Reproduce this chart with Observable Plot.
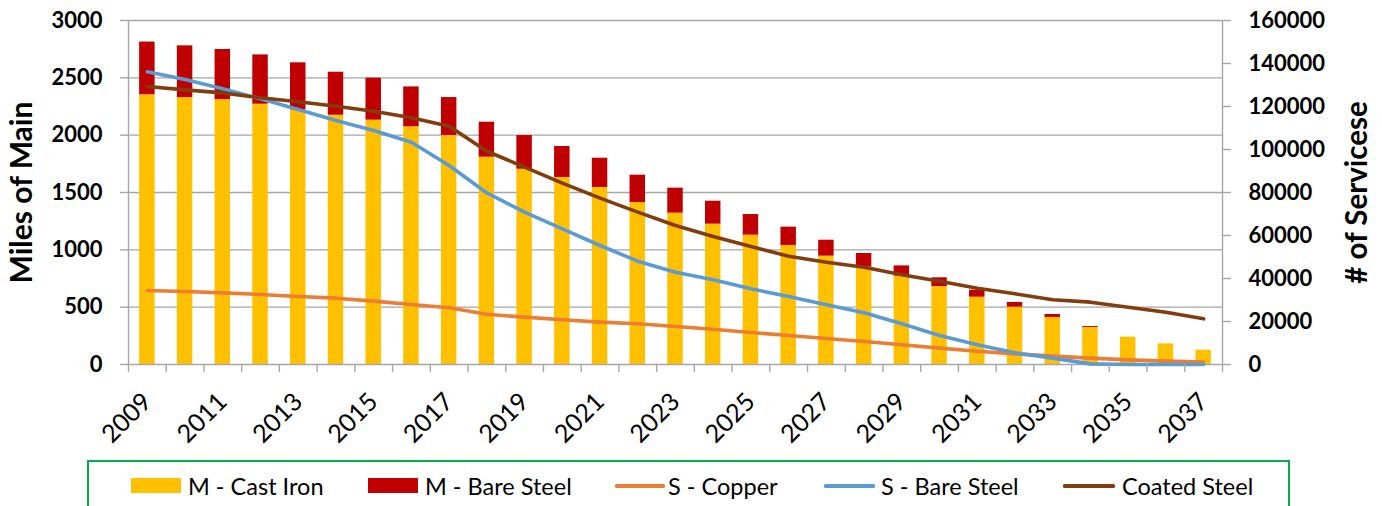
<!DOCTYPE html>
<html>
<head>
<meta charset="utf-8">
<script src="https://cdn.jsdelivr.net/npm/d3@7"></script>
<script src="https://cdn.jsdelivr.net/npm/@observablehq/plot@0.6"></script>
<style>
  html, body { margin: 0; padding: 0; background: #fff; }
  body { width: 1382px; height: 506px; position: relative; overflow: hidden; font-family: Lato, "Open Sans", sans-serif; }
  #chart { position: absolute; left: 0; top: 0; }
  #legend { position: absolute; left: 87px; top: 460px; width: 1203px; height: 60px; border: 2px solid #00B050; box-sizing: border-box; }
  .sw { position: absolute; }
  .lt { position: absolute; font-size: 23.5px; color: #000; white-space: nowrap; line-height: 24px; top: 12px; }
</style>
</head>
<body>
<div id="chart"></div>
<div id="legend"></div>
<script>
// Categories
const years = [2009,2010,2011,2012,2013,2014,2015,2016,2017,2018,2019,2020,2021,2022,2023,2024,2025,2026,2027,2028,2029,2030,2031,2032,2033,2034,2035,2036,2037];
// Miles of main (left axis)
const castIron  = [2352,2328,2311,2270,2221,2174,2131,2073,1997,1808,1703,1631,1544,1413,1320,1224,1128,1038,945,849,770,680,587,500,410,323,238,180,125];
const bareSteelMain = [460,451,436,430,410,375,366,348,331,305,294,270,255,238,218,200,180,160,139,119,90,76,61,41,26,8,0,0,0];
// Number of services (right axis)
const sCopper = [34420,33950,33330,32560,31630,30850,29460,27900,26360,23400,22020,20780,19690,18920,17670,16430,14880,13490,12100,10700,9150,7600,6200,4960,3880,2950,2170,1550,1090];
const sBareSteel = [136140,132550,128220,123570,118600,113480,108830,103400,92550,79800,70850,63100,55350,48050,42940,39380,35190,31630,27750,24100,18920,13490,9150,5430,2950,300,0,0,0];
const coatedSteel = [129300,127750,126350,124030,122170,120150,117830,114730,110850,99200,91790,84350,77370,70850,64650,59540,54880,50380,47590,45260,41700,38750,35500,32870,30080,28990,26670,24340,21250];
// Axis ticks
const leftTicks = [0,500,1000,1500,2000,2500,3000];
const rightTicks = [0,20000,40000,60000,80000,100000,120000,140000,160000];
const xLabelYears = [2009,2011,2013,2015,2017,2019,2021,2023,2025,2027,2029,2031,2033,2035,2037];

const leftMax = 3000, rightMax = 160000;
const k = leftMax / rightMax;

const colors = {
  castIron: "#FFC000",
  bareSteelMain: "#C00000",
  copper: "#ED7D31",
  bareSteel: "#5B9BD5",
  coated: "#843C0C"
};
const gridColor = "#a6a6a6";

const rows = years.map((y, i) => ({
  year: y,
  ci: castIron[i],
  bs: bareSteelMain[i],
  cu: sCopper[i],
  sbs: sBareSteel[i],
  cs: coatedSteel[i]
}));

const boundaries = [years[0] - 0.5, ...years.map(y => y + 0.5)];
const halfBar = 0.205;

const chart = Plot.plot({
  width: 1382,
  height: 455,
  marginLeft: 128,
  marginRight: 160,
  marginTop: 20,
  marginBottom: 91,
  style: { fontFamily: "Lato, 'Open Sans', sans-serif", color: "#000", background: "#fff" },
  x: { type: "linear", domain: [years[0] - 0.5, years[years.length - 1] + 0.5] },
  y: { domain: [0, leftMax] },
  marks: [
    Plot.gridY({ ticks: leftTicks.filter(t => t > 0), stroke: gridColor, strokeOpacity: 1, strokeWidth: 1.4 }),
    Plot.rectY(rows, { x1: d => d.year - halfBar, x2: d => d.year + halfBar, y1: 0, y2: d => d.ci, fill: colors.castIron }),
    Plot.rectY(rows, { x1: d => d.year - halfBar, x2: d => d.year + halfBar, y1: d => d.ci, y2: d => d.ci + d.bs, fill: colors.bareSteelMain }),
    Plot.ruleX([boundaries[0], boundaries[boundaries.length - 1]], { stroke: gridColor, strokeWidth: 1.4 }),
    Plot.ruleY([0], { stroke: gridColor, strokeWidth: 1.4 }),
    Plot.line(rows, { x: "year", y: d => d.cu * k, stroke: colors.copper, strokeWidth: 3.6 }),
    Plot.line(rows, { x: "year", y: d => d.sbs * k, stroke: colors.bareSteel, strokeWidth: 3.6 }),
    Plot.line(rows, { x: "year", y: d => d.cs * k, stroke: colors.coated, strokeWidth: 3.6 }),
    Plot.axisY({ ticks: leftTicks, tickSize: 8, tickPadding: 18, stroke: gridColor, strokeWidth: 1.4, fill: "#000", fontSize: 22, fontWeight: "bold", label: null, tickFormat: d => String(d) }),
    Plot.axisY({ anchor: "right", ticks: rightTicks.map(t => t * k), tickSize: 8, tickPadding: 18, stroke: gridColor, strokeWidth: 1.4, fill: "#000", fontSize: 22, fontWeight: "bold", label: null, tickFormat: d => String(Math.round(d / k)) }),
    Plot.axisX({ ticks: boundaries, tickSize: 8, stroke: gridColor, strokeWidth: 1.4, tickFormat: () => "", label: null }),
    Plot.axisX({ ticks: xLabelYears, tickSize: 0, tickPadding: 33, tickRotate: -45, fill: "#000", fontSize: 25, label: null, tickFormat: d => String(d) }),
    Plot.text(["Miles of Main"], { text: d => d, frameAnchor: "left", dx: -106, rotate: -90, textAnchor: "middle", lineAnchor: "middle", fontSize: 30, fontWeight: "bold", fill: "#000" }),
    Plot.text(["# of Servicese"], { text: d => d, frameAnchor: "right", dx: 135, rotate: -90, textAnchor: "middle", lineAnchor: "middle", fontSize: 29.5, fontWeight: "bold", fill: "#000" })
  ]
});
document.getElementById("chart").appendChild(chart);

// Legend (HTML, below the SVG)
const legendItems = [
  { label: "M - Cast Iron", type: "rect", color: colors.castIron, sx: 42, sw: 50, tx: 99 },
  { label: "M - Bare Steel", type: "rect", color: colors.bareSteelMain, sx: 279, sw: 50, tx: 336 },
  { label: "S - Copper", type: "line", color: colors.copper, sx: 526, sw: 50, tx: 579 },
  { label: "S - Bare Steel", type: "line", color: colors.bareSteel, sx: 735, sw: 51, tx: 792 },
  { label: "Coated Steel", type: "line", color: colors.coated, sx: 974, sw: 52, tx: 1033 }
];
const legend = document.getElementById("legend");
legendItems.forEach(it => {
  const sw = document.createElement("div");
  sw.className = "sw";
  sw.style.left = it.sx + "px";
  sw.style.width = it.sw + "px";
  sw.style.background = it.color;
  if (it.type === "rect") { sw.style.top = "16px"; sw.style.height = "15px"; }
  else { sw.style.top = "22px"; sw.style.height = "3.5px"; sw.style.borderRadius = "1.5px"; }
  legend.appendChild(sw);
  const t = document.createElement("div");
  t.className = "lt";
  t.style.left = it.tx + "px";
  t.textContent = it.label;
  legend.appendChild(t);
});
</script>
</body>
</html>
